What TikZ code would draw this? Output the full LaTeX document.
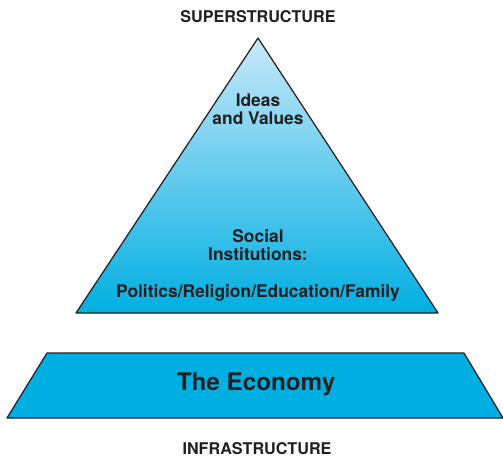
\documentclass[tikz,border=0pt]{standalone}
\usepackage{fontspec}
\setmainfont{TeX Gyre Heros}
\begin{document}
\begin{tikzpicture}[x=0.02cm, y=-0.02cm, line join=round, line cap=round, font=\bfseries]
			\definecolor{skyblue}{RGB}{200,232,249}
			\definecolor{processcyan}{RGB}{0,175,226}
			\definecolor{inkgray}{RGB}{35,31,32}
			\tikzset{label/.style={text=inkgray, align=center, inner sep=0pt, font=\bfseries\fontsize{9.9}{10.4}\selectfont}}
			\useasboundingbox (0,0) rectangle (503,459);
			% the pyramid
			\shade[top color=skyblue, bottom color=processcyan, draw=inkgray, line width=0.7pt]
				(258,38)--(438,313)--(76,313)--cycle;
			% the base
			\fill[processcyan, draw=inkgray, line width=0.7pt]
				(47,353)--(464,353)--(503,418)--(7,418)--cycle;
			\node[label] (ideas) at (258,109) {Ideas\\and Values};
			\node[label] (social) at (258,245) {Social\\Institutions:};
			\node[label] (inst) at (258,293) {Politics/Religion/Education/Family};
			\node[label, font=\bfseries\fontsize{13.8}{16}\selectfont] (economy) at (256,384) {The Economy};
			\node[label, font=\bfseries\fontsize{9.2}{10}\selectfont] (super) at (258,17) {SUPERSTRUCTURE};
			\node[label, font=\bfseries\fontsize{9.2}{10}\selectfont] (infra) at (257,449) {INFRASTRUCTURE};
		\end{tikzpicture}
\end{document}
